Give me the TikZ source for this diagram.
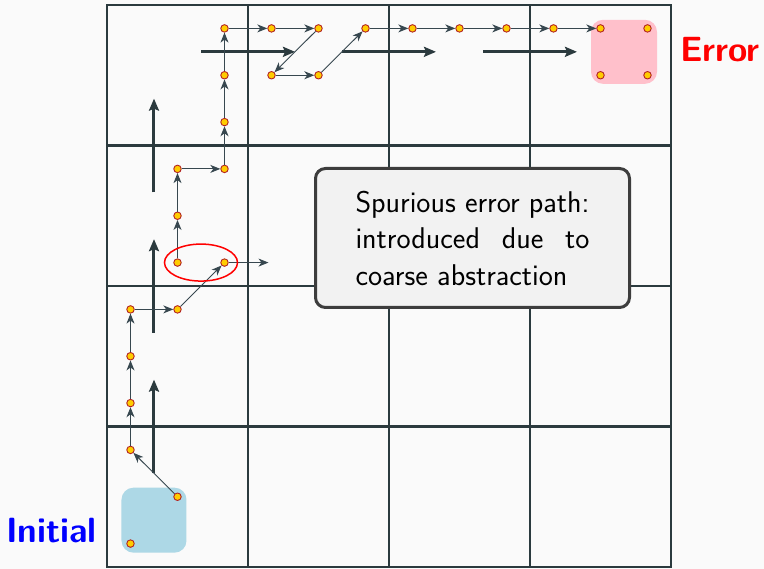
\documentclass[tikz,border=0pt]{standalone}
\usetikzlibrary{arrows.meta,shapes.geometric}

\definecolor{gridcol}{HTML}{2B3A3E}
\definecolor{bgcol}{HTML}{FAFAFA}
\definecolor{dotfill}{HTML}{FFCC00}
\definecolor{dotedge}{HTML}{B22222}
\definecolor{pathcol}{HTML}{37474F}
\definecolor{initcol}{HTML}{ADD8E6}
\definecolor{errcol}{HTML}{FFC0CB}
\definecolor{boxfill}{HTML}{F2F2F2}
\definecolor{boxedge}{HTML}{3D3D3D}

\begin{document}
\begin{tikzpicture}[x=141pt,y=140.5pt,
  st/.style={circle,draw=dotedge,fill=dotfill,line width=0.9pt,inner sep=0pt,minimum size=7.5pt},
  tr/.style={draw=pathcol,line width=0.9pt,-{Stealth[length=10pt,width=8pt,inset=3pt]}},
  abstrans/.style={draw=gridcol,line width=3pt,-{Stealth[length=12pt,width=10pt,inset=2pt]}},
  region/.style={rounded corners=12pt,inner sep=0pt}]

% canvas
\useasboundingbox (-107pt,-2pt) rectangle (657pt,567pt);
\fill[bgcol] (-107pt,-2pt) rectangle (657pt,567pt);

% abstraction grid
\foreach \k in {1,2,3} {
  \draw[gridcol,line width=1.9pt] (\k,0) -- (\k,4);
  \draw[gridcol,line width=2.2pt] (0,\k) -- (4,\k);
}
\draw[gridcol,line width=2.5pt] (0,0) rectangle (4,4);

% initial and error regions
\node[region,fill=initcol,minimum width=65pt,minimum height=65pt] (init) at (1/3,1/3) {};
\node[region,fill=errcol,minimum width=66pt,minimum height=64pt] (err) at (11/3,11/3) {};

% abstract transitions across cell borders
\foreach \k in {1,2,3} {
  \draw[abstrans] (1/3,\k-1/3) -- (1/3,\k+1/3);
  \draw[abstrans] (\k-1/3,11/3) -- (\k+1/3,11/3);
}

% concrete states
\foreach \i/\j in {0/0,1/1,0/2,0/3,0/4,0/5,1/5,1/6,2/6,1/7,1/8,2/8,2/9,2/10,2/11,
                   3/11,4/11,3/10,4/10,5/11,6/11,7/11,8/11,9/11,10/11,11/11,10/10,11/10}
  \node[st] (d\i-\j) at ({(\i+0.5)/3},{(\j+0.5)/3}) {};

% concrete transitions
\foreach \a/\b in {1-1/0-2,0-2/0-3,0-3/0-4,0-4/0-5,0-5/1-5,1-5/2-6,
                   1-6/1-7,1-7/1-8,1-8/2-8,2-8/2-9,2-9/2-10,2-10/2-11,
                   2-11/3-11,3-11/4-11,4-11/3-10,3-10/4-10,4-10/5-11,
                   5-11/6-11,6-11/7-11,7-11/8-11,8-11/9-11,9-11/10-11}
  \draw[tr] (d\a) -- (d\b);
\path (d2-6.center) ++(44pt,0) coordinate (exitpt);
\draw[tr] (d2-6) -- (exitpt);

% spurious step
\node[ellipse,draw=red,line width=1.5pt,minimum width=73pt,minimum height=37pt,inner sep=0pt]
  (spur) at (2/3,6.5/3) {};

% annotation
\node[draw=boxedge,fill=boxfill,line width=3pt,rounded corners=10pt,
      minimum width=314pt,minimum height=139pt,text width=234pt,align=justify,
      font=\sffamily\fontsize{30}{36.5}\selectfont] (note) at (365.5pt,329pt)
  {Spurious error path:\linebreak introduced due to\linebreak coarse abstraction};

% labels
\node[anchor=base east,inner sep=0pt,text=blue,font=\sffamily\bfseries\fontsize{35}{42}\selectfont]
  (initlbl) at (-10pt,24pt) {Initial};
\node[anchor=base west,inner sep=0pt,text=red,font=\sffamily\bfseries\fontsize{35}{42}\selectfont]
  (errlbl) at (573pt,505pt) {Error};
\end{tikzpicture}
\end{document}
